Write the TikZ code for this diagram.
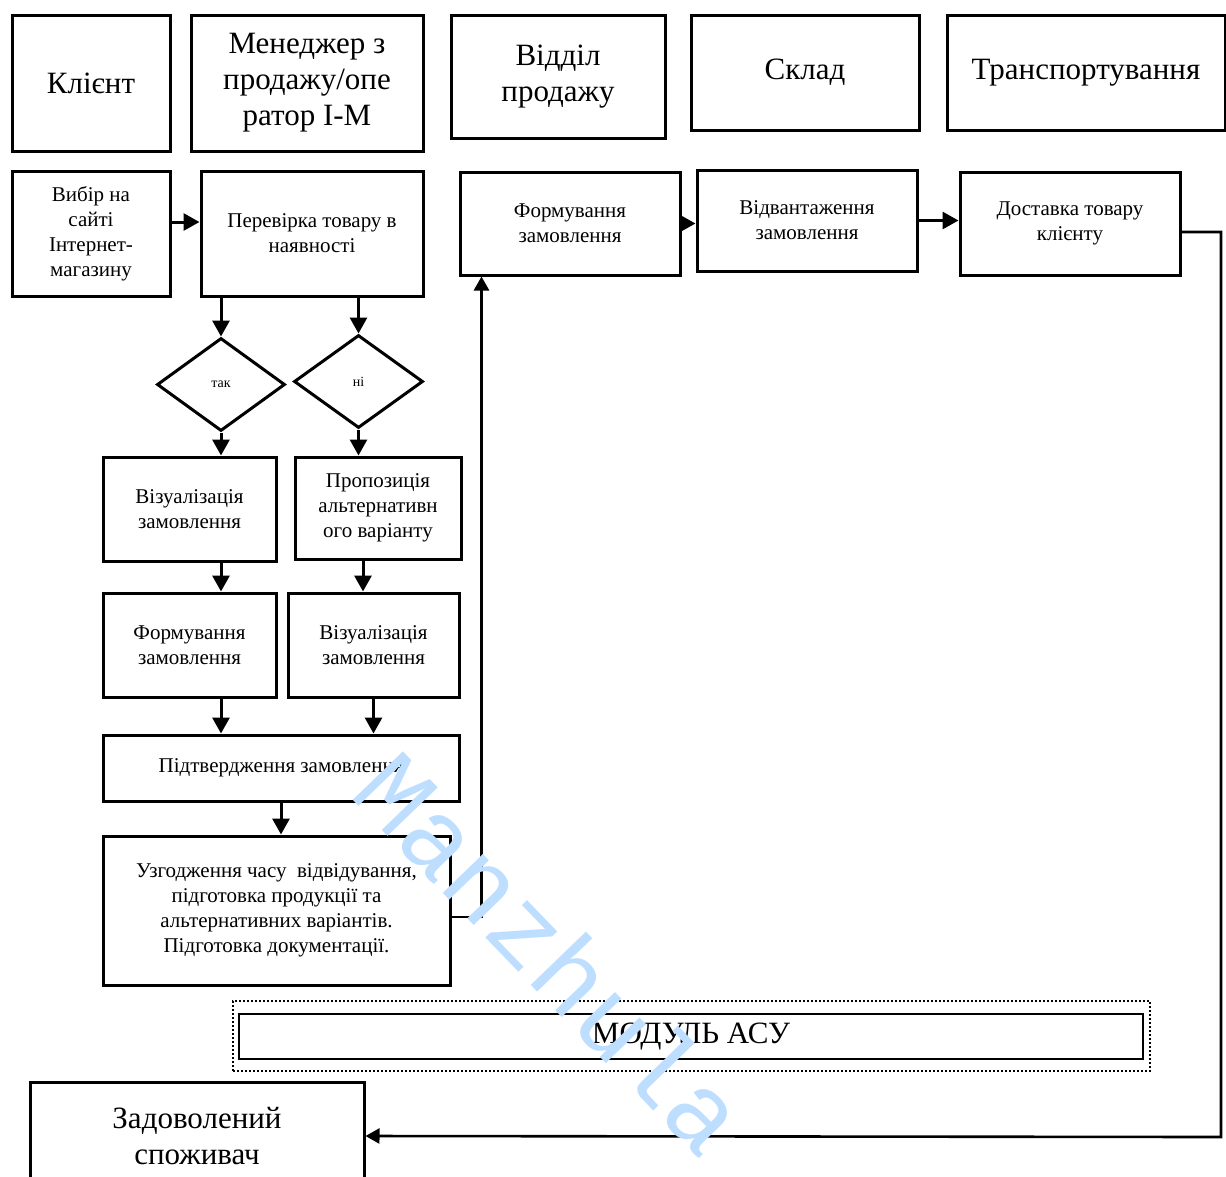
\documentclass[tikz,border=0pt]{standalone}
\usepackage{fontspec}
\setmainfont{Liberation Serif}
\newfontfamily\wmfont{Liberation Mono}
\usepackage{xcolor}
\usepackage{tikz}
\usetikzlibrary{shapes.geometric,arrows.meta}
\definecolor{wmblue}{RGB}{190,222,255}

\begin{document}
\begin{tikzpicture}[
    x=1pt, y=-1pt,
    head/.style={rectangle, draw, line width=3pt, align=center, inner sep=0pt, font=\fontsize{31}{36}\selectfont},
    stepbox/.style={rectangle, draw, line width=3pt, align=center, inner sep=0pt, font=\fontsize{21}{25}\selectfont},
    cond/.style={diamond, draw, line width=3pt, inner sep=0pt, font=\fontsize{14}{16}\selectfont},
    arr/.style={-{Triangle[length=16pt,width=17pt]}, line width=3pt},
    link/.style={-{Triangle[length=14pt,width=15pt]}, line width=2.6pt}
]
    \useasboundingbox (0,0) rectangle (1226,1176);

    % Lanes
    \node[head, minimum width=158pt, minimum height=136pt] (client) at (91,83) {Клієнт};
    \node[head, minimum width=232pt, minimum height=136pt] (manager) at (307,83) {Менеджер з\\продажу/опе\\ратор І-М};
    \node[head, minimum width=214pt, minimum height=123pt] (sales) at (558,76.5) {Відділ\\продажу};
    \node[head, minimum width=228pt, minimum height=115pt] (stock) at (805,72.5) {Склад};
    \node[head, minimum width=278pt, minimum height=115pt] (transport) at (1086,72.5) {Транспортування};

    % Order taking
    \node[stepbox, minimum width=158pt, minimum height=125pt] (choice) at (91,233.5) {Вибір на\\сайті\\Інтернет-\\магазину};
    \node[stepbox, minimum width=222pt, minimum height=125pt] (check) at (312,233.5) {Перевірка товару в\\наявності};
    \node[cond, minimum width=128pt, minimum height=93pt] (yes) at (221,384.5) {так};
    \node[cond, minimum width=129pt, minimum height=93pt] (no) at (358.5,381.5) {ні};
    \node[stepbox, minimum width=173pt, minimum height=104pt] (vis1) at (189.5,509) {Візуалізація\\замовлення};
    \node[stepbox, minimum width=166pt, minimum height=102pt] (alt) at (378,508) {Пропозиція\\альтернативн\\ого варіанту};
    \node[stepbox, minimum width=173pt, minimum height=104pt] (form1) at (189.5,645) {Формування\\замовлення};
    \node[stepbox, minimum width=171pt, minimum height=104pt] (vis2) at (373.5,645) {Візуалізація\\замовлення};
    \node[stepbox, minimum width=356pt, minimum height=66pt] (confirm) at (281,768) {Підтвердження замовлення};
    \node[stepbox, minimum width=347pt, minimum height=149pt] (agree) at (276.5,910.5) {Узгодження часу~ відвідування,\\підготовка продукції та\\альтернативних варіантів.\\Підготовка документації.};

    % Sales, stock, transport
    \node[stepbox, minimum width=220pt, minimum height=103pt] (form2) at (570,223.5) {Формування\\замовлення};
    \node[stepbox, minimum width=220pt, minimum height=101pt] (ship) at (807,220.5) {Відвантаження\\замовлення};
    \node[stepbox, minimum width=220pt, minimum height=103pt] (deliver) at (1070,223.5) {Доставка товару\\клієнту};

    % Module and result
    \node[draw, dotted, line width=2pt, minimum width=917pt, minimum height=70pt] (asuframe) at (691.5,1036) {};
    \node[draw, line width=2pt, minimum width=904pt, minimum height=45pt, font=\fontsize{31}{36}\selectfont] (asu) at (691,1036.5) {МОДУЛЬ АСУ};
    \node[head, minimum width=334pt, minimum height=108pt] (happy) at (197,1136) {Задоволений\\споживач};
    \coordinate (corner) at (1221,1137);

    % Connectors
    \draw[arr] (choice.east |- 0,222) -- (check.west |- 0,222);
    \draw[arr] (yes.north |- check.south) -- (yes.north);
    \draw[arr] (no.north |- check.south) -- (no.north);
    \draw[arr] (yes.south) -- (yes.south |- vis1.north);
    \draw[arr] (no.south) -- (no.south |- alt.north);
    \draw[arr] (yes.south |- vis1.south) -- (yes.south |- form1.north);
    \draw[arr] ([xshift=-15pt]alt.south) -- ([xshift=-15pt]alt.south |- vis2.north);
    \draw[arr] (yes.south |- form1.south) -- (yes.south |- confirm.north);
    \draw[arr] (vis2.south) -- (vis2.south |- confirm.north);
    \draw[arr] (confirm.south) -- (confirm.south |- agree.north);
    \draw[link] (agree.east |- 0,917) -| ([xshift=23pt]form2.south west);
    \draw[arr] (form2.east) -- (form2.east -| ship.west);
    \draw[arr] (ship.east) -- (ship.east -| deliver.west);
    \draw[link] (deliver.east |- 0,232) -| (corner) -- (happy.east);

    % Watermark
    \node[rotate=-46, text=wmblue, font=\wmfont\fontsize{106}{106}\selectfont] (mark) at (552,952) {Manzhula};
\end{tikzpicture}
\end{document}
